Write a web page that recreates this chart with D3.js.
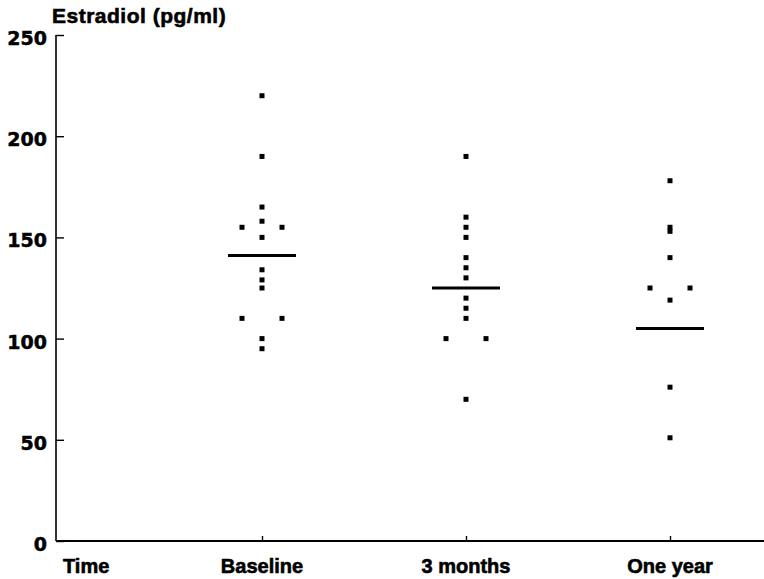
<!DOCTYPE html>
<html>
<head>
<meta charset="utf-8">
<script src="https://cdn.jsdelivr.net/npm/d3@7"></script>
<style>
  body { margin: 0; background: #fff; }
  svg { display: block; }
  .lbl { font-family: "Liberation Sans", Arial, sans-serif; font-weight: bold; font-size: 20px; fill: #000; stroke: #000; stroke-width: 0.6px; }
  .num { font-family: "DejaVu Sans", sans-serif; font-weight: bold; font-size: 19px; fill: #000; stroke: #000; stroke-width: 0.5px; }
</style>
</head>
<body>
<div id="chart"></div>
<script>
// groups along the x axis
var groups = ["Baseline", "3 months", "One year"];

// individual estradiol values per group (pg/ml)
var baseline = [220, 190, 165, 158, 155, 155, 150, 134, 129, 125, 110, 110, 100, 95];
var threeMonths = [190, 160, 155, 150, 140, 135, 130, 120, 115, 110, 100, 100, 70];
var oneYear = [178, 155, 153, 140, 125, 125, 119, 76, 51];

// group mean lines
var means = [141, 125, 105];

var yTicks = [0, 50, 100, 150, 200, 250];

var width = 764, height = 579;
var axisX = 56, axisY = 541, topY = 35;

var svg = d3.select("#chart")
    .append("svg")
    .attr("width", width)
    .attr("height", height);

var x = d3.scalePoint()
    .domain(["Time"].concat(groups))
    .range([axisX + 2, axisX + 2 + 3 * 204]);

var y = d3.scaleLinear().domain([0, 250]).range([axisY, topY]);

// y axis
var yAxis = svg.append("g")
    .attr("transform", "translate(" + axisX + ",0)")
    .call(d3.axisRight(y).tickValues(yTicks).tickSize(8).tickFormat(""));
yAxis.select(".domain").attr("d", "M0," + topY + "V" + axisY).attr("stroke-width", 1.6);
yAxis.selectAll(".tick line").attr("stroke-width", 1.4);

svg.append("g").selectAll("text")
    .data(yTicks)
    .enter().append("text")
    .attr("class", "num")
    .attr("x", axisX - 9)
    .attr("y", function (d) { return y(d) + 10; })
    .attr("text-anchor", "end")
    .text(function (d) { return d; });

// x axis
var xAxis = svg.append("g")
    .attr("transform", "translate(0," + axisY + ")")
    .call(d3.axisTop(x).tickValues(groups).tickSize(5).tickFormat(""));
xAxis.select(".domain").attr("d", "M" + axisX + ",0H" + width).attr("stroke-width", 1.8);
xAxis.selectAll(".tick line").attr("stroke-width", 1.4);

svg.append("g").selectAll("text")
    .data(groups)
    .enter().append("text")
    .attr("class", "lbl")
    .attr("x", function (d) { return x(d); })
    .attr("y", 573)
    .attr("text-anchor", "middle")
    .text(function (d) { return d; });

svg.append("text")
    .attr("class", "lbl")
    .attr("x", 63)
    .attr("y", 573)
    .text("Time");

svg.append("text")
    .attr("class", "lbl")
    .attr("x", 52)
    .attr("y", 23)
    .style("font-size", "21px")
    .style("letter-spacing", "0.5px")
    .text("Estradiol (pg/ml)");

// points: tied values are spread left and right of the column
var series = [baseline, threeMonths, oneYear];
var pts = [];
series.forEach(function (vals, gi) {
    vals.forEach(function (v, i) {
        var n = vals.filter(function (w) { return w === v; }).length;
        var k = vals.slice(0, i).filter(function (w) { return w === v; }).length;
        var dx = n > 1 ? (k === 0 ? -20 : 20) : 0;
        pts.push({ g: groups[gi], v: v, dx: dx });
    });
});

var s = 5;
svg.append("g").selectAll("rect")
    .data(pts)
    .enter().append("rect")
    .attr("x", function (d) { return x(d.g) + d.dx - s / 2; })
    .attr("y", function (d) { return y(d.v) - s / 2; })
    .attr("width", s)
    .attr("height", s)
    .attr("fill", "#000");

svg.append("g").selectAll("line")
    .data(means)
    .enter().append("line")
    .attr("x1", function (d, i) { return x(groups[i]) - 34; })
    .attr("x2", function (d, i) { return x(groups[i]) + 34; })
    .attr("y1", function (d) { return y(d); })
    .attr("y2", function (d) { return y(d); })
    .attr("stroke", "#000")
    .attr("stroke-width", 3);
</script>
</body>
</html>
